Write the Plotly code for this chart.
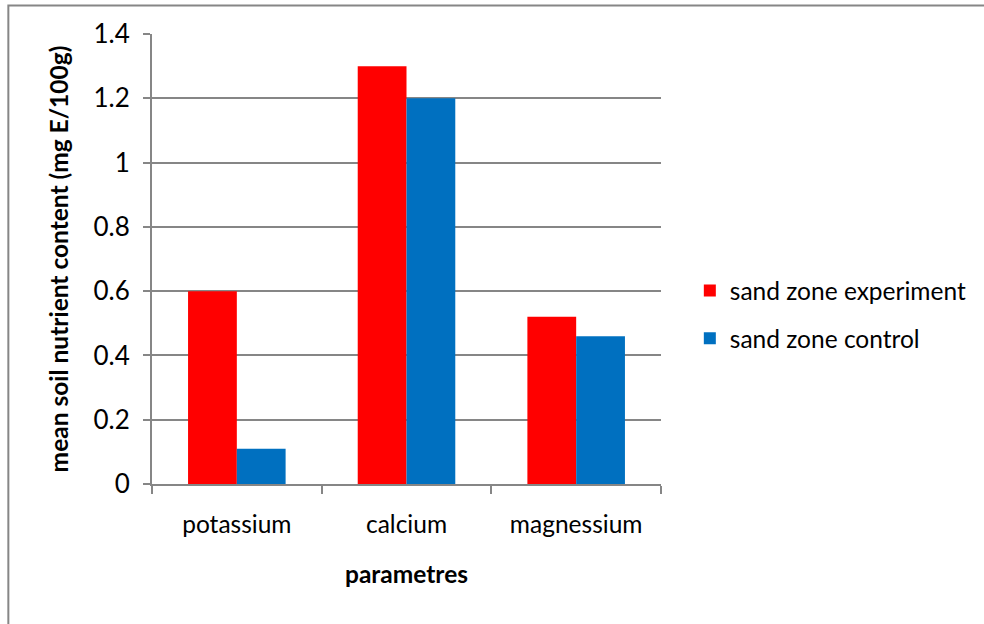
import plotly.graph_objects as go

categories = ["potassium", "calcium", "magnessium"]
experiment = [0.6, 1.3, 0.52]
control = [0.11, 1.2, 0.46]
y_ticks = [0, 0.2, 0.4, 0.6, 0.8, 1.0, 1.2, 1.4]
y_tick_text = ["0", "0.2", "0.4", "0.6", "0.8", "1", "1.2", "1.4"]

FONT = "Lato, 'Open Sans', sans-serif"
FS = 24.5
AXIS_GREY = "#868686"

fig = go.Figure()
fig.add_trace(go.Bar(
    x=categories, y=experiment, name="sand zone experiment",
    marker=dict(color="#FF0000", line=dict(width=0)),
    legendgroup="a",
))
fig.add_trace(go.Bar(
    x=categories, y=control, name="sand zone control",
    marker=dict(color="#0070C0", line=dict(width=0)),
    legendgroup="b",
))

# plot area geometry (pixels)
W, H = 984, 624
L, R, T, B = 152, 320, 34, 140
pw, ph = W - L - R, H - T - B

def px_x(x):
    return (x - L) / pw

def px_y(y):
    return (H - B - y) / ph

fig.update_layout(
    width=W, height=H,
    margin=dict(l=L, r=R, t=T, b=B, pad=0),
    paper_bgcolor="white", plot_bgcolor="white",
    barmode="group", bargap=0.425, bargroupgap=0,
    font=dict(family=FONT, size=FS, color="#000000"),
    showlegend=True,
    legend=dict(
        x=px_x(693), y=px_y(268), xanchor="left", yanchor="top",
        font=dict(family=FONT, size=FS, color="#000000"),
        tracegroupgap=13, traceorder="grouped",
        itemwidth=30, bgcolor="rgba(0,0,0,0)",
    ),
    xaxis=dict(
        showline=True, linecolor=AXIS_GREY, linewidth=2,
        ticks="outside", tickson="boundaries", ticklen=8,
        tickcolor=AXIS_GREY, tickwidth=2,
        ticklabelstandoff=18,
        tickfont=dict(family=FONT, size=FS),
        title=dict(text="<b>parametres</b>", standoff=28,
                   font=dict(family=FONT, size=FS)),
        showgrid=False,
    ),
    yaxis=dict(
        range=[0, 1.4], tickvals=y_ticks, ticktext=y_tick_text,
        showline=True, linecolor=AXIS_GREY, linewidth=2,
        ticks="outside", ticklen=7, tickcolor=AXIS_GREY, tickwidth=2,
        ticklabelstandoff=8,
        tickfont=dict(family=FONT, size=26),
        showgrid=True, gridcolor=AXIS_GREY, gridwidth=1.5,
        zeroline=False,
        title=dict(text="<b>mean soil nutrient content (mg E/100g)</b>",
                   standoff=18, font=dict(family=FONT, size=FS)),
    ),
    shapes=[
        # chart frame; right and bottom edges run past the page
        dict(type="rect", xref="paper", yref="paper",
             x0=px_x(7.5), x1=px_x(1060), y0=px_y(5.5), y1=px_y(700),
             line=dict(color=AXIS_GREY, width=2), fillcolor="rgba(0,0,0,0)",
             layer="below"),
    ],
)

fig.write_html("out.html", config={"displayModeBar": False})
